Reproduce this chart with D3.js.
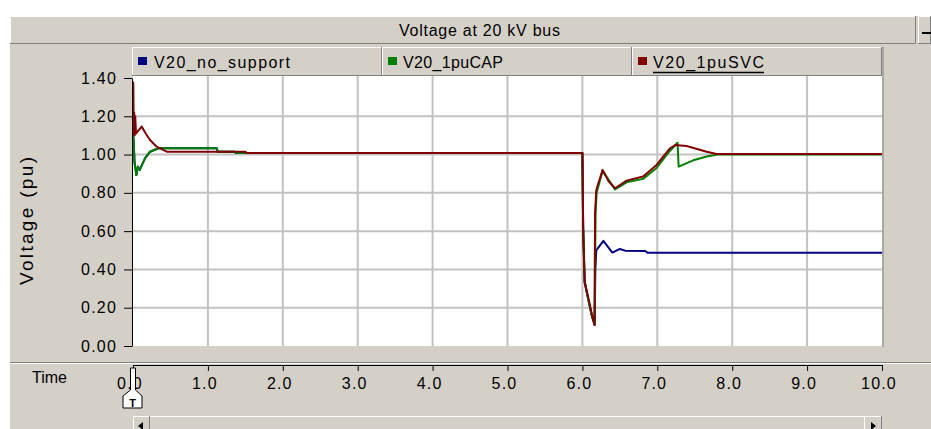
<!DOCTYPE html>
<html>
<head>
<meta charset="utf-8">
<script src="https://cdn.jsdelivr.net/npm/d3@7"></script>
<style>
  body { margin: 0; background: #ffffff; }
  text { font-family: "Liberation Sans", Arial, sans-serif; fill: #000; }
</style>
</head>
<body>
<svg id="chart" width="931" height="429"></svg>
<script>
// ---- data -------------------------------------------------------------
const chartTitle = "Voltage at 20 kV bus";
const seriesNames = ["V20_no_support", "V20_1puCAP", "V20_1puSVC"];
const timeTicks = [0, 1, 2, 3, 4, 5, 6, 7, 8, 9, 10];
const voltageTicks = [0, 0.2, 0.4, 0.6, 0.8, 1.0, 1.2, 1.4];

// [time (s), voltage (pu)]
const noSupport = [
  [0.000, 1.100], [0.008, 1.080], [0.020, 0.960], [0.045, 0.893], [0.065, 0.937],
  [0.090, 0.920], [0.160, 0.980], [0.227, 1.015], [0.340, 1.033], [1.120, 1.033],
  [1.130, 1.015], [1.360, 1.015], [1.370, 1.008], [6.000, 1.008], [6.010, 0.620],
  [6.030, 0.330], [6.080, 0.240], [6.130, 0.150], [6.165, 0.110], [6.172, 0.400],
  [6.178, 0.440], [6.185, 0.500], [6.280, 0.549], [6.400, 0.488], [6.500, 0.507],
  [6.570, 0.498], [6.840, 0.496], [6.870, 0.487], [10.000, 0.487]
];
const onePuCap = [
  [0.000, 1.100], [0.008, 1.080], [0.020, 0.960], [0.045, 0.893], [0.065, 0.937],
  [0.090, 0.920], [0.160, 0.980], [0.227, 1.015], [0.340, 1.033], [1.120, 1.033],
  [1.130, 1.015], [1.360, 1.015], [1.370, 1.008], [6.000, 1.008], [6.010, 0.620],
  [6.030, 0.340], [6.080, 0.240], [6.130, 0.150], [6.165, 0.120], [6.175, 0.690],
  [6.190, 0.800], [6.270, 0.915], [6.435, 0.818], [6.590, 0.855], [6.810, 0.873],
  [6.990, 0.930], [7.170, 1.020], [7.270, 1.062], [7.285, 0.937], [7.480, 0.970],
  [7.660, 0.990], [7.810, 1.000], [10.000, 1.000]
];
const onePuSvc = [
  [0.000, 1.100], [0.004, 1.376], [0.010, 1.110], [0.016, 1.220], [0.022, 1.100],
  [0.030, 1.200], [0.040, 1.110], [0.060, 1.120], [0.116, 1.146], [0.170, 1.110],
  [0.227, 1.076], [0.316, 1.041], [0.450, 1.015], [1.500, 1.015], [1.520, 1.008],
  [6.000, 1.008], [6.010, 0.623], [6.030, 0.336], [6.080, 0.250], [6.130, 0.160],
  [6.160, 0.110], [6.170, 0.700], [6.185, 0.815], [6.270, 0.920], [6.350, 0.860],
  [6.435, 0.824], [6.590, 0.864], [6.810, 0.885], [6.990, 0.946], [7.170, 1.033],
  [7.240, 1.050], [7.390, 1.045], [7.660, 1.015], [7.790, 1.003], [10.000, 1.003]
];

// ---- styling ------------------------------------------------------------
const seriesData = [noSupport, onePuCap, onePuSvc];
const seriesColors = ["#000080", "#008000", "#800000"];
const face = "#d4d0c8", shadow = "#808080", light = "#ffffff";

const svg = d3.select("#chart");
const plot = { left: 133, right: 882, top: 78, bottom: 346 };

const x = d3.scaleLinear().domain([0, 10]).range([plot.left, plot.right]);
const y = d3.scaleLinear().domain([0, 1.4]).range([plot.bottom, plot.top]);

function hline(x1, x2, yy, color, w = 1) {
  svg.append("line").attr("x1", x1).attr("x2", x2).attr("y1", yy).attr("y2", yy)
    .attr("stroke", color).attr("stroke-width", w);
}
function vline(xx, y1, y2, color, w = 1) {
  svg.append("line").attr("x1", xx).attr("x2", xx).attr("y1", y1).attr("y2", y2)
    .attr("stroke", color).attr("stroke-width", w);
}
// raised windows-style panel
function bevel(x0, y0, w, h) {
  svg.append("rect").attr("x", x0).attr("y", y0).attr("width", w).attr("height", h).attr("fill", face);
  hline(x0, x0 + w, y0 + 0.5, light);
  vline(x0 + 0.5, y0, y0 + h, light);
  hline(x0, x0 + w, y0 + h - 0.5, shadow);
  vline(x0 + w - 0.5, y0, y0 + h, shadow);
}

// window background
svg.append("rect").attr("x", 10).attr("y", 16).attr("width", 921).attr("height", 413).attr("fill", face);

// title bar
bevel(10, 16, 906, 28);
svg.append("text").attr("x", 479.5).attr("y", 36).attr("text-anchor", "middle")
  .attr("font-size", 16).attr("textLength", 161).attr("lengthAdjust", "spacing").text(chartTitle);
bevel(918, 16, 13, 28);
hline(922, 931, 33, "#000", 2);

// legend buttons
const legendWidths = [136, 100, 111];
seriesNames.forEach((name, i) => {
  const x0 = 132 + i * 250;
  bevel(x0, 47, 250, 29);
  svg.append("rect").attr("x", x0 + 6).attr("y", 57).attr("width", 9).attr("height", 8)
    .attr("fill", seriesColors[i]);
  svg.append("text").attr("x", x0 + 21 + (i === 0 ? 1 : 0)).attr("y", 68).attr("font-size", 16)
    .attr("textLength", legendWidths[i]).attr("lengthAdjust", "spacing").text(name);
  if (i === 2) hline(x0 + 21, x0 + 21 + legendWidths[i], 72.5, "#000", 1.5);
});

// plot area
svg.append("rect").attr("x", plot.left).attr("y", 76)
  .attr("width", plot.right - plot.left).attr("height", plot.bottom - 76).attr("fill", "#fff");
vline(plot.right + 1, 47, 347, shadow);

// grid
svg.append("g").selectAll("line").data(timeTicks.slice(1, -1)).join("line")
  .attr("x1", d => x(d)).attr("x2", d => x(d)).attr("y1", 76).attr("y2", plot.bottom)
  .attr("stroke", "#c2c2c2").attr("stroke-width", 2);
svg.append("g").selectAll("line").data(voltageTicks.slice(1, -1)).join("line")
  .attr("x1", plot.left).attr("x2", plot.right).attr("y1", d => y(d)).attr("y2", d => y(d))
  .attr("stroke", "#c2c2c2").attr("stroke-width", 2);

// series
svg.append("clipPath").attr("id", "plotClip").append("rect")
  .attr("x", plot.left).attr("y", 76).attr("width", plot.right - plot.left).attr("height", plot.bottom - 76);
const line = d3.line().x(d => x(d[0])).y(d => y(d[1]));
svg.append("g").attr("clip-path", "url(#plotClip)").selectAll("path").data(seriesData).join("path")
  .attr("d", line).attr("fill", "none")
  .attr("stroke", (d, i) => seriesColors[i]).attr("stroke-width", 2)
  .attr("stroke-linejoin", "round");

// y axis
const yAxis = svg.append("g").attr("transform", "translate(132,0)")
  .call(d3.axisLeft(y).tickValues(voltageTicks).tickFormat(d3.format(".2f"))
    .tickSize(8).tickSizeOuter(0).tickPadding(7));
yAxis.selectAll("text").attr("font-size", 16).attr("letter-spacing", 1.2)
  .attr("font-family", "Liberation Sans, Arial, sans-serif").attr("fill", "#000");
yAxis.select(".domain").attr("stroke", "#000");
yAxis.selectAll(".tick line").attr("stroke", "#000");

svg.append("text").attr("transform", "translate(33,221) rotate(-90)")
  .attr("text-anchor", "middle").attr("font-size", 19).attr("fill", "#222")
  .attr("textLength", 128).attr("lengthAdjust", "spacing").text("Voltage (pu)");

// separator above the time axis
hline(10, 931, 362.5, shadow);
hline(10, 931, 363.5, light);

// x axis
const xAxis = svg.append("g").attr("transform", "translate(0,365)")
  .call(d3.axisBottom(x).tickValues(timeTicks).tickFormat(d3.format(".1f"))
    .tickSize(6).tickSizeOuter(0).tickPadding(7));
xAxis.selectAll("text").attr("font-size", 16).attr("letter-spacing", 1.2).attr("dx", -3.5)
  .attr("font-family", "Liberation Sans, Arial, sans-serif").attr("fill", "#000");
xAxis.select(".domain").attr("stroke", "#000");
xAxis.selectAll(".tick line").attr("stroke", "#000");

svg.append("text").attr("x", 32).attr("y", 383).attr("font-size", 16).text("Time");

// time cursor marker
const mx = x(0);
svg.append("path")
  .attr("d", `M${mx - 2.5},368 L${mx + 2.5},368 L${mx + 2.5},390 L${mx + 9},396 L${mx + 9},408 L${mx - 10},408 L${mx - 10},396 L${mx - 2.5},390 Z`)
  .attr("fill", "#fff").attr("stroke", "#000").attr("stroke-width", 1);
svg.append("text").attr("x", mx - 0.5).attr("y", 406.5).attr("text-anchor", "middle")
  .attr("font-size", 11).attr("font-weight", "bold").text("T");

// horizontal scrollbar
bevel(133, 416, 749, 14);
bevel(133, 416, 17, 14);
bevel(864, 416, 18, 14);
svg.append("path").attr("d", "M138,426 L143,422 L143,430 Z").attr("fill", "#000");
svg.append("path").attr("d", "M876,426 L871,422 L871,430 Z").attr("fill", "#000");
</script>
</body>
</html>
